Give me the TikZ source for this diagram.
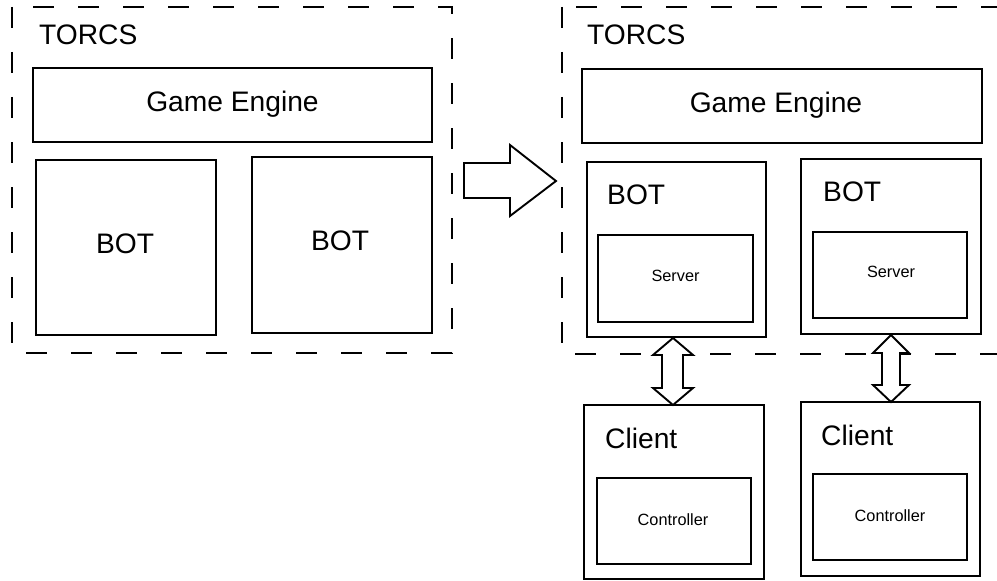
\documentclass[tikz,border=0pt]{standalone}
\usepackage{fontspec}
\setmainfont{Liberation Sans}
\begin{document}
\begin{tikzpicture}[x=1bp,y=-1bp,
  box/.style={draw, line width=1.9bp, rectangle, inner sep=0pt, outer sep=0pt},
  bigtxt/.style={font=\fontsize{28.2bp}{33bp}\selectfont, inner sep=0pt},
  smalltxt/.style={font=\fontsize{16.3bp}{20bp}\selectfont, inner sep=0pt},
  dashbox/.style={line width=2bp, dash pattern=on 21bp off 24bp},
  arr/.style={draw, line width=1.9bp, fill=white, line join=miter}]
\useasboundingbox (0,0) rectangle (997,581);
% dashed TORCS frames
\draw[dashbox] (12,7) rectangle (452,353);
\draw[dashbox] (562,7) rectangle (1020,354);
% left side
\node[bigtxt, anchor=base west] (ltorcs) at (39,45) {TORCS};
\node[box, minimum width=399bp, minimum height=74bp] (lge) at (232.5,105) {};
\node[bigtxt, anchor=base] (lgetxt) at (232.5,112) {Game Engine};
\node[box, minimum width=180bp, minimum height=175bp] (lbot1) at (126,247.5) {};
\node[bigtxt, anchor=base] (lbot1txt) at (125,254) {BOT};
\node[box, minimum width=180bp, minimum height=176bp] (lbot2) at (342,245) {};
\node[bigtxt, anchor=base] (lbot2txt) at (340,251) {BOT};
% big arrow
\draw[arr] (464,163) -- (510,163) -- (510,145) -- (556,181) -- (510,216) -- (510,198) -- (464,198) -- cycle;
% right side
\node[bigtxt, anchor=base west] (rtorcs) at (587,45) {TORCS};
\node[box, minimum width=400bp, minimum height=74bp] (rge) at (782,106) {};
\node[bigtxt, anchor=base] (rgetxt) at (776,113) {Game Engine};
\node[box, minimum width=179bp, minimum height=175bp] (rbot1) at (676.5,249.5) {};
\node[bigtxt, anchor=base west] (rbot1txt) at (607,205) {BOT};
\node[box, minimum width=155bp, minimum height=87bp] (srv1) at (675.5,278.5) {};
\node[smalltxt, anchor=base] (srv1txt) at (675.5,282) {Server};
\node[box, minimum width=180bp, minimum height=175bp] (rbot2) at (891,246.5) {};
\node[bigtxt, anchor=base west] (rbot2txt) at (823,202) {BOT};
\node[box, minimum width=154bp, minimum height=86bp] (srv2) at (890,275) {};
\node[smalltxt, anchor=base] (srv2txt) at (891,278) {Server};
\node[box, minimum width=180bp, minimum height=174bp] (cl1) at (674,492) {};
\node[bigtxt, anchor=base west] (cl1txt) at (605,448) {Client};
\node[box, minimum width=154bp, minimum height=86bp] (ctl1) at (674,521) {};
\node[smalltxt, anchor=base] (ctl1txt) at (673,525) {Controller};
\node[box, minimum width=179bp, minimum height=174bp] (cl2) at (890.5,489) {};
\node[bigtxt, anchor=base west] (cl2txt) at (821,445) {Client};
\node[box, minimum width=154bp, minimum height=86bp] (ctl2) at (890,517) {};
\node[smalltxt, anchor=base] (ctl2txt) at (890,521) {Controller};
% double arrows
\coordinate (a1) at (673,338);
\draw[arr] (a1) -- ++(20,17) -- ++(-10,0) -- ++(0,33) -- ++(10,0) -- ++(-20,17) -- ++(-20,-17) -- ++(9,0) -- ++(0,-33) -- ++(-9,0) -- cycle;
\coordinate (a2) at (891,335);
\draw[arr] (a2) -- ++(18,18) -- ++(-9,0) -- ++(0,32) -- ++(9,0) -- ++(-18,17) -- ++(-18,-17) -- ++(9,0) -- ++(0,-32) -- ++(-9,0) -- cycle;
\end{tikzpicture}
\end{document}
